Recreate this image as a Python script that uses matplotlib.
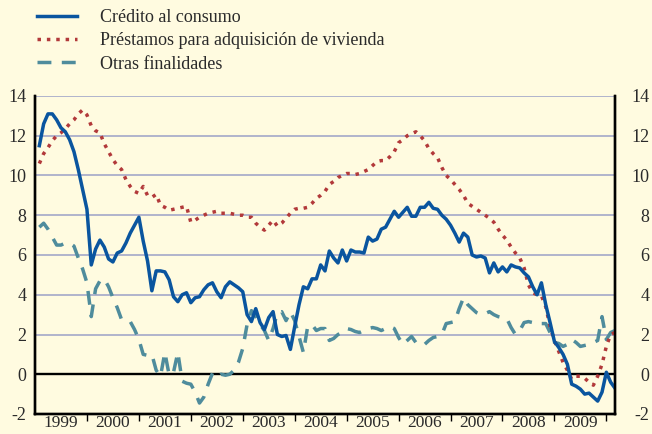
import numpy as np
import matplotlib
matplotlib.use("Agg")
import matplotlib.pyplot as plt
from matplotlib.ticker import FixedLocator, NullFormatter

# tasas de variación interanual (%), datos mensuales ene-1999 a feb-2010
consumo = [11.5, 12.6, 13.1, 13.1, 12.8, 12.4, 12.2, 11.8, 11.2, 10.3, 9.3, 8.3,
           5.5, 6.3, 6.75, 6.4, 5.8, 5.65, 6.1, 6.2, 6.6, 7.1, 7.5, 7.9,
           6.7, 5.7, 4.2, 5.2, 5.2, 5.15, 4.75, 3.9, 3.65, 4.0, 4.1, 3.6,
           3.85, 3.9, 4.25, 4.5, 4.6, 4.15, 3.85, 4.4, 4.65, 4.5, 4.35, 4.15,
           3.0, 2.65, 3.3, 2.6, 2.25, 2.85, 3.15, 2.0, 1.9, 1.95, 1.25, 2.4,
           3.5, 4.4, 4.3, 4.8, 4.8, 5.5, 5.2, 6.2, 5.85, 5.6, 6.25, 5.7,
           6.25, 6.15, 6.15, 6.1, 6.9, 6.7, 6.8, 7.3, 7.4, 7.8, 8.2, 7.9,
           8.15, 8.4, 7.95, 7.95, 8.4, 8.4, 8.65, 8.35, 8.3, 8.0, 7.8, 7.5,
           7.1, 6.65, 7.1, 6.9, 6.0, 5.9, 5.95, 5.85, 5.1, 5.6, 5.15, 5.4,
           5.15, 5.5, 5.4, 5.35, 5.1, 4.9, 4.4, 4.0, 4.6, 3.5, 2.6, 1.65,
           1.35, 1.0, 0.5, -0.5, -0.6, -0.75, -1.0, -0.95, -1.15, -1.35, -0.9, 0.1,
           -0.4, -0.7]

vivienda = [10.6, 11.1, 11.4, 11.75, 12.0, 12.15, 12.35, 12.6, 12.8, 13.1, 13.3, 13.05,
            12.5, 12.25, 12.15, 11.6, 11.2, 10.8, 10.5, 10.3, 9.8, 9.45, 9.2, 9.1,
            9.45, 9.0, 8.9, 9.05, 8.5, 8.4, 8.25, 8.3, 8.35, 8.4, 8.45, 7.65,
            7.75, 7.9, 8.0, 8.1, 8.15, 8.2, 8.1, 8.1, 8.1, 8.05, 8.0, 8.0,
            7.9, 7.9, 7.6, 7.4, 7.25, 7.5, 7.75, 7.45, 7.6, 7.85, 8.1, 8.3,
            8.35, 8.35, 8.4, 8.6, 8.85, 9.0, 9.2, 9.55, 9.7, 9.9, 10.0, 10.1,
            10.1, 10.05, 10.1, 10.2, 10.3, 10.5, 10.7, 10.75, 10.75, 10.95, 11.2, 11.65,
            11.8, 12.0, 12.1, 12.2, 12.0, 11.75, 11.35, 11.1, 10.9, 10.4, 10.0, 9.8,
            9.55, 9.3, 9.0, 8.6, 8.45, 8.3, 8.15, 8.0, 7.85, 7.65, 7.3, 7.0,
            6.75, 6.4, 6.1, 5.85, 5.35, 4.5, 4.1, 4.0, 3.95, 3.4, 2.4, 1.7,
            1.15, 0.6, 0.2, -0.25, -0.1, -0.1, -0.2, -0.4, -0.55, -0.1, 0.5, 1.4,
            2.0, 2.1]

otras = [7.4, 7.6, 7.3, 6.9, 6.5, 6.5, 6.6, 6.6, 6.45, 5.85, 5.3, 4.6,
         2.9, 4.3, 4.7, 4.8, 4.4, 3.85, 3.35, 2.75, 2.7, 2.65, 2.25, 1.75,
         1.0, 0.95, 1.0, 0.2, -0.1, 1.1, -0.05, 0.1, 1.1, -0.35, -0.45, -0.5,
         -0.9, -1.45, -1.15, -0.5, 0.05, -0.15, 0.0, -0.05, 0.0, 0.2, 0.6, 1.3,
         2.5, 3.2, 2.9, 2.5, 2.2, 1.7, 2.3, 3.1, 3.15, 2.7, 3.15, 2.7,
         1.9, 1.1, 2.4, 2.5, 2.2, 2.3, 2.3, 1.7, 1.8, 2.0, 2.1, 2.3,
         2.25, 2.15, 2.1, 2.2, 2.3, 2.35, 2.3, 2.2, 2.3, 2.4, 2.3, 1.85,
         1.5, 1.7, 1.9, 1.6, 1.45, 1.5, 1.7, 1.85, 1.9, 2.0, 2.55, 2.6,
         2.65, 3.3, 3.85, 3.5, 3.3, 3.1, 3.0, 3.05, 3.15, 3.0, 2.9, 2.85,
         2.8, 2.35, 2.0, 2.2, 2.6, 2.65, 2.6, 2.5, 2.55, 2.55, 2.1, 1.6,
         1.55, 1.4, 1.5, 1.75, 1.6, 1.4, 1.45, 1.5, 1.6, 1.7, 2.9, 1.75,
         2.1, 2.2]

years = list(range(1999, 2010))
labels = ["Crédito al consumo", "Préstamos para adquisición de vivienda", "Otras finalidades"]

plt.rcParams['font.family'] = ['Liberation Serif', 'DejaVu Serif']
plt.rcParams['axes.unicode_minus'] = False
bg = '#FFFBE0'
txt = '#2A2A2A'

x = 1999 + (np.arange(len(consumo)) + 1) / 12.0

fig = plt.figure(figsize=(6.52, 4.34), dpi=100, facecolor=bg)
ax = fig.add_axes([35/652, 1 - 414/434, 580/652, 318/434], facecolor=bg)

l1, = ax.plot(x, consumo, color='#0A559F', lw=2.5, zorder=5)
l2, = ax.plot(x, vivienda, color='#B2393A', lw=2.5, linestyle=(0, (1, 1.7)), zorder=4)
l3, = ax.plot(x, otras, color='#4F8C9C', lw=2.5, linestyle=(0, (4, 3)), zorder=3)

ax.set_ylim(-2, 14)
ax.set_xlim(1999, x[-1])
ax.set_yticks(range(-2, 15, 2))
for yv in range(2, 15, 2):
    ax.axhline(yv, color='#A3A8C8', lw=1.2, zorder=1)
ax.axhline(0, color='black', lw=1.7, zorder=2)

ax.xaxis.set_major_locator(FixedLocator(range(2000, 2011)))
ax.xaxis.set_major_formatter(NullFormatter())
ax.xaxis.set_minor_locator(FixedLocator([y + 0.5 for y in years]))
ax.set_xticklabels([str(y) for y in years], minor=True)
ax.tick_params(axis='x', which='major', direction='out', length=5, width=1, color='black')
ax.tick_params(axis='x', which='minor', length=0, labelsize=12.5, pad=1, colors=txt)
ax.tick_params(axis='y', length=0, labelsize=13, colors=txt, pad=6)

# eje derecho con las mismas etiquetas, alineadas a la derecha
ax2 = ax.twinx()
ax2.set_ylim(-2, 14)
ax2.set_yticks(range(-2, 15, 2))
ax2.tick_params(axis='y', length=0, labelsize=13, colors=txt, pad=25)
for t in ax2.get_yticklabels():
    t.set_horizontalalignment('right')

for a in (ax, ax2):
    for s in ['left', 'right', 'bottom']:
        a.spines[s].set_linewidth(1.7)
        a.spines[s].set_color('black')
    a.spines['top'].set_visible(False)

fig.legend([l1, l2, l3], labels, loc='upper left', bbox_to_anchor=(37/652, 1 - 9/434),
           frameon=False, fontsize=13, handlelength=2.2, handletextpad=1.3,
           labelspacing=0.35, borderpad=0, borderaxespad=0, labelcolor=txt)

fig.savefig('out.png', dpi=100, facecolor=bg)
